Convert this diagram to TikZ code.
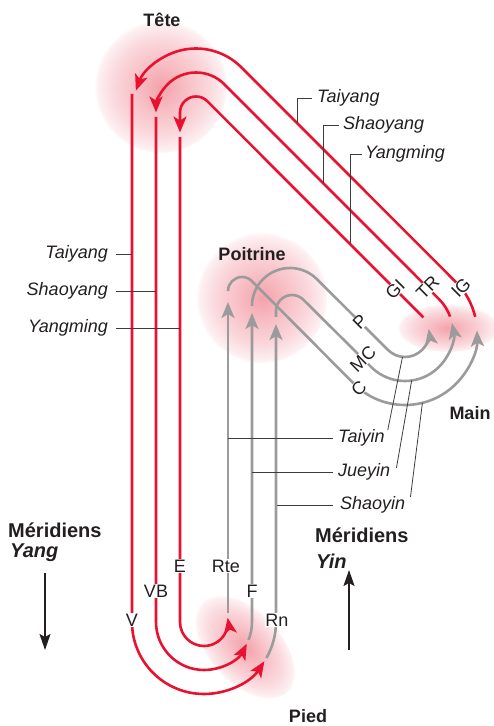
\documentclass[tikz,border=0pt]{standalone}
\usepackage{fontspec}
\setmainfont{Liberation Sans}
\usepackage{tikz}
\usetikzlibrary{arrows.meta, calc}
\definecolor{yangred}{RGB}{232, 18, 48}
\definecolor{yingrey}{RGB}{155, 155, 155}
\definecolor{leadgrey}{RGB}{60, 60, 60}
\definecolor{inkdark}{RGB}{35, 31, 32}
\definecolor{blobcore}{RGB}{244, 162, 170}
\definecolor{blobmid}{RGB}{247, 190, 196}
\definecolor{blobpale}{RGB}{250, 216, 220}
\definecolor{blobedge}{RGB}{253, 240, 242}
\pgfdeclareradialshading{softblob}{\pgfpoint{0bp}{0bp}}{%
    color(0bp)=(blobcore); color(9bp)=(blobmid); color(18bp)=(blobpale); color(24bp)=(blobedge); color(25.5bp)=(white); color(50bp)=(white)}

\begin{document}
\begin{tikzpicture}[x=1pt, y=1pt,
    >={Stealth[length=16pt, width=13pt, inset=4pt]},
    yang/.style={line width=2.6pt, yangred},
    yin/.style={line width=2.6pt, yingrey},
    code/.style={fill=white, inner sep=0.5pt, text=inkdark, font=\fontsize{18}{18}\selectfont},
    note/.style={text=inkdark, inner sep=1pt, font=\fontsize{18}{18}\selectfont\itshape},
    zone/.style={text=inkdark, inner sep=0pt, font=\fontsize{18}{18}\selectfont\bfseries},
    title/.style={text=inkdark, inner sep=0pt, anchor=west, font=\fontsize{20}{20}\selectfont\bfseries},
    leader/.style={line width=0.8pt, leadgrey},
    flow/.style={line width=2pt, inkdark, -{Stealth[length=16pt, width=11pt, inset=3pt]}},
    blob/.style={shading=softblob}]

    \useasboundingbox (0,0) rectangle (493,726);

    % Zones (pink)
    \shade[blob] (161,639) circle (66);
    \shade[blob] (262,428) circle (65);
    \shade[blob] (448,398) ellipse (50 and 24);
    \begin{scope}[transform canvas={shift={(245,79)}, rotate=-47}]
        \shade[blob] (0,0) ellipse (62 and 36);
    \end{scope}

    % Turning centres
    \coordinate (head) at (196,613.5);
    \coordinate (hand) at (405,393);
    \coordinate (foot) at (204,104);

    % Yang: hand -> head
    \draw[yang, ->] ($(hand)+(40:24)$) arc[start angle=40, end angle=45, radius=24]
        -- ($(head)+(45:16)$) arc[start angle=45, end angle=180, radius=16] -- ++(0,-20);
    \draw[yang, ->] ($(hand)+(20:48)$) arc[start angle=20, end angle=45, radius=48]
        -- ($(head)+(45:40)$) arc[start angle=45, end angle=180, radius=40];
    \draw[yang, ->] ($(hand)+(13:72)$) arc[start angle=13, end angle=45, radius=72]
        -- ($(head)+(45:64)$) arc[start angle=45, end angle=160, radius=64];

    % Yang: head -> foot
    \coordinate (Vtop) at (132,632);
    \coordinate (VBtop) at (156,609);
    \coordinate (Etop) at (180,589);
    \draw[yang, ->] (Vtop) -- (Vtop |- foot) arc[start angle=180, end angle=327, radius=72];
    \draw[yang, ->] (VBtop) -- (VBtop |- foot) arc[start angle=180, end angle=333, radius=48];
    \draw[yang, ->] (Etop) -- (Etop |- foot) arc[start angle=180, end angle=370, radius=24];

    % Yin: foot -> chest
    \coordinate (Rtebot) at (228,113);
    \draw[yin, ->] (Rtebot) -- (228,424);
    \draw[yin, ->] ($(foot)+(-22:48)$) arc[start angle=-22, end angle=0, radius=48] -- (252,413);
    \draw[yin, ->] ($(foot)+(-30:72)$) arc[start angle=-30, end angle=0, radius=72] -- (276,402);

    % Yin: chest -> hand
    \draw[yin, ->] (228,435) arc[start angle=180, end angle=45, radius=14]
        -- ($(hand)+(225:72)$) arc[start angle=225, end angle=362, radius=72];
    \draw[yin, ->] (252,420) arc[start angle=180, end angle=45, radius=38]
        -- ($(hand)+(225:24)$) arc[start angle=225, end angle=370, radius=24];
    \draw[yin, ->] (276,409) -- (276,415) arc[start angle=180, end angle=45, radius=16]
        -- ($(hand)+(225:48)$) arc[start angle=225, end angle=372, radius=48];

    % Meridian codes
    \node[code] (lblV) at (132,106) {V};
    \node[code] (lblVB) at (156,135) {VB};
    \node[code] (lblE) at (180,160) {E};
    \node[code] (lblRte) at (226,160) {Rte};
    \node[code] (lblF) at (252,135) {F};
    \node[code] (lblRn) at (277,106) {Rn};
    \node[code, rotate=45] (lblGI) at ($(hand)+(45:24)+(135:38)$) {GI};
    \node[code, rotate=45] (lblTR) at ($(hand)+(45:48)+(135:16)$) {TR};
    \node[code, rotate=45] (lblIG) at ($(hand)+(39:72)$) {IG};
    \node[code, rotate=45] (lblP) at (360,404) {P};
    \node[code, rotate=45] (lblMC) at (363,367) {MC};
    \node[code, rotate=45] (lblC) at ($(hand)+(230:72)$) {C};

    % Yang names, left
    \node[note, anchor=east] (tyangL) at (109,472) {Taiyang};
    \node[note, anchor=east] (syangL) at (109,435) {Shaoyang};
    \node[note, anchor=east] (ymingL) at (109,398) {Yangming};
    \draw[leader] ([xshift=7pt]tyangL.east) -- (tyangL.east -| Vtop);
    \draw[leader] ([xshift=7pt]syangL.east) -- (syangL.east -| VBtop);
    \draw[leader] ([xshift=7pt]ymingL.east) -- (ymingL.east -| Etop);

    % Yang names, right
    \coordinate (tyangC) at (297,603.1);
    \coordinate (syangC) at (323,543.1);
    \coordinate (ymingC) at (350,482.1);
    \node[note, anchor=west] (tyangR) at (316,628) {Taiyang};
    \node[note, anchor=west] (syangR) at (342,601) {Shaoyang};
    \node[note, anchor=west] (ymingR) at (364,572) {Yangming};
    \draw[leader] ([xshift=-4pt]tyangR.west) -| (tyangC);
    \draw[leader] ([xshift=-3pt]syangR.west) -| (syangC);
    \draw[leader] ([xshift=-2pt]ymingR.west) -| (ymingC);

    % Yin names
    \node[note, anchor=west] (tyin) at (337,288) {Taiyin};
    \node[note, anchor=west] (jyin) at (337,254) {Jueyin};
    \node[note, anchor=west] (syin) at (339,221) {Shaoyin};
    \draw[leader] ([xshift=-4pt]tyin.west) -- (tyin.west -| Rtebot);
    \draw[leader] ([xshift=-4pt]jyin.west) -- (jyin.west -| lblF);
    \draw[leader] ([xshift=-6pt]syin.west) -- (syin.west -| lblRn);
    \draw[leader] ([shift={(2pt,8pt)}]tyin.east) -- ($(hand)+(-96:24)$);
    \draw[leader] ([shift={(5pt,4pt)}]jyin.east) -- ($(hand)+(-82:48)$);
    \draw[leader] ([shift={(4pt,8pt)}]syin.east) -- ($(hand)+(-76:72)$);

    % Zones
    \node[zone] (tete) at (162,706) {Tête};
    \node[zone] (poitrine) at (252,472) {Poitrine};
    \node[zone] (main) at (470,313) {Main};
    \node[zone] (pied) at (308,10) {Pied};

    % Direction of flow
    \node[title] (yangT) at (8,196) {Méridiens};
    \node[title] (yangS) at (10,173) {\itshape Yang};
    \coordinate (yangA) at (45,153);
    \coordinate (yangB) at (45,76);
    \draw[flow] (yangA) -- (yangB);
    \node[title] (yinT) at (315,191) {Méridiens};
    \node[title] (yinS) at (316,165) {\itshape Yin};
    \coordinate (yinA) at (349,76);
    \coordinate (yinB) at (349,156);
    \draw[flow] (yinA) -- (yinB);
\end{tikzpicture}
\end{document}
